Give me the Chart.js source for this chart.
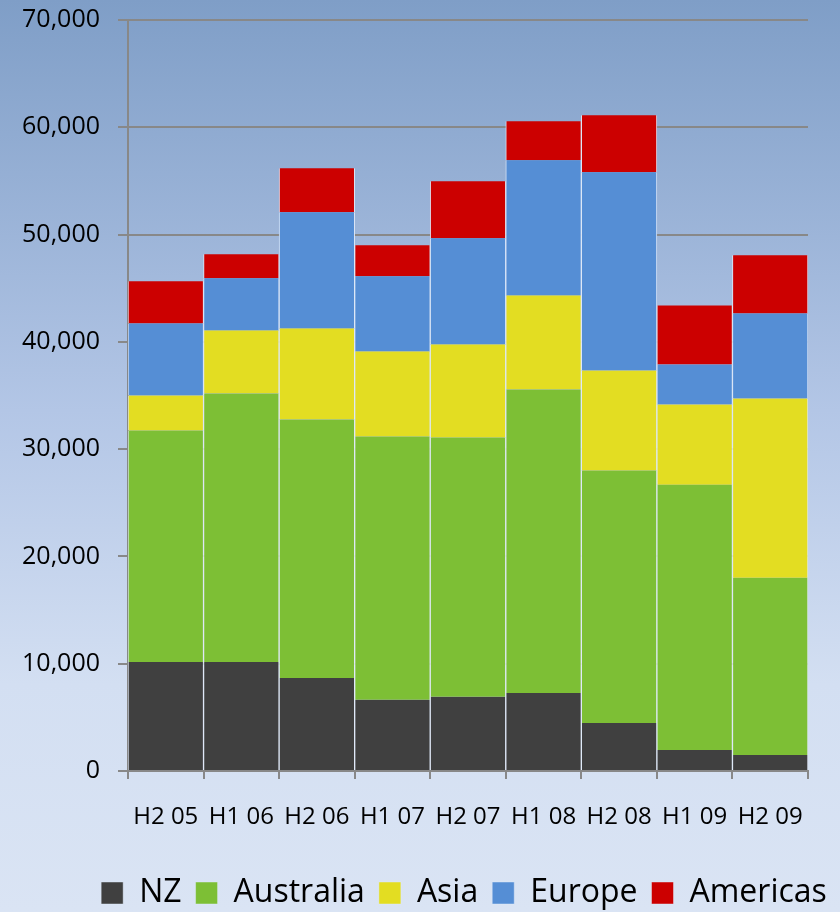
<!DOCTYPE html>
<html>
<head>
<meta charset="utf-8">
<script src="https://cdn.jsdelivr.net/npm/chart.js@4/dist/chart.umd.min.js"></script>
<style>
  html, body { margin: 0; padding: 0; }
  body {
    width: 840px; height: 912px;
    background: linear-gradient(to bottom, #7f9ec7 0%, #b3c6e6 45%, #d3dff2 75%, #dae4f4 100%);
  }
  #wrap { width: 840px; height: 912px; }
</style>
</head>
<body>
<div id="wrap"><canvas id="myChart" width="840" height="912"></canvas></div>
<script>
const periods = ['H2 05', 'H1 06', 'H2 06', 'H1 07', 'H2 07', 'H1 08', 'H2 08', 'H1 09', 'H2 09'];
const nz        = [10170, 10170, 8680, 6630, 6910, 7280, 4480, 1960, 1490];
const australia = [21560, 25020, 24080, 24540, 24170, 28280, 23520, 24730, 16520];
const asia      = [3270, 5880, 8490, 7940, 8680, 8770, 9330, 7470, 16710];
const europe    = [6720, 4850, 10830, 7000, 9890, 12600, 18480, 3730, 7930];
const americas  = [3920, 2240, 4110, 2890, 5320, 3640, 5320, 5510, 5420];
const yTicks    = [0, 10000, 20000, 30000, 40000, 50000, 60000, 70000];

const font = '"Open Sans", "Noto Sans", sans-serif';
const gap = 'rgba(225,234,248,0.9)';

function series(label, data, color) {
  return {
    label: label,
    data: data,
    backgroundColor: color,
    borderColor: gap,
    borderWidth: { left: 1, right: 1, top: 0, bottom: 0 },
    borderSkipped: false,
    categoryPercentage: 1,
    barPercentage: 1
  };
}

// the legend in the source sits centred under the plot area rather than the canvas
const shiftLegend = {
  id: 'shiftLegend',
  afterLayout: chart => {
    const lg = chart.legend;
    if (!lg) return;
    const dx = 60, dy = 7;
    lg.left += dx; lg.right += dx;
    lg.top += dy; lg.bottom += dy;
  }
};

const ctx = document.getElementById('myChart').getContext('2d');
new Chart(ctx, {
  type: 'bar',
  data: {
    labels: periods,
    datasets: [
      series('NZ', nz, '#404040'),
      series('Australia', australia, '#7dbf35'),
      series('Asia', asia, '#e3dd22'),
      series('Europe', europe, '#558ed5'),
      series('Americas', americas, '#cc0000')
    ]
  },
  options: {
    responsive: false,
    animation: false,
    layout: { padding: { top: 20, right: 32, left: 0, bottom: 0 } },
    scales: {
      x: {
        stacked: true,
        grid: {
          offset: true,
          drawOnChartArea: false,
          drawTicks: true,
          tickLength: 8,
          color: '#888',
          lineWidth: 2
        },
        border: { color: '#888', width: 2 },
        ticks: {
          color: '#000',
          font: { family: font, size: 24 },
          padding: 24,
          maxRotation: 0
        },
        afterFit: function(axis) { axis.height = 85; axis.paddingLeft = 0; axis.paddingRight = 0; }
      },
      y: {
        stacked: true,
        min: 0,
        max: 70000,
        afterBuildTicks: function(axis) { axis.ticks = yTicks.map(v => ({ value: v })); },
        grid: {
          color: '#888',
          lineWidth: 2,
          tickLength: 10
        },
        border: { color: '#888', width: 2 },
        ticks: {
          color: '#000',
          font: { family: font, size: 25 },
          padding: 18,
          callback: function(value) { return value.toLocaleString('en-US'); }
        },
        afterFit: function(axis) { axis.width = 128; axis.paddingTop = 0; axis.paddingBottom = 0; }
      }
    },
    plugins: {
      legend: {
        position: 'bottom',
        labels: {
          color: '#000',
          font: { family: font, size: 32 },
          boxWidth: 22,
          boxHeight: 22,
          padding: 14
        }
      },
      tooltip: { enabled: false }
    }
  },
  plugins: [shiftLegend]
});
</script>
</body>
</html>
